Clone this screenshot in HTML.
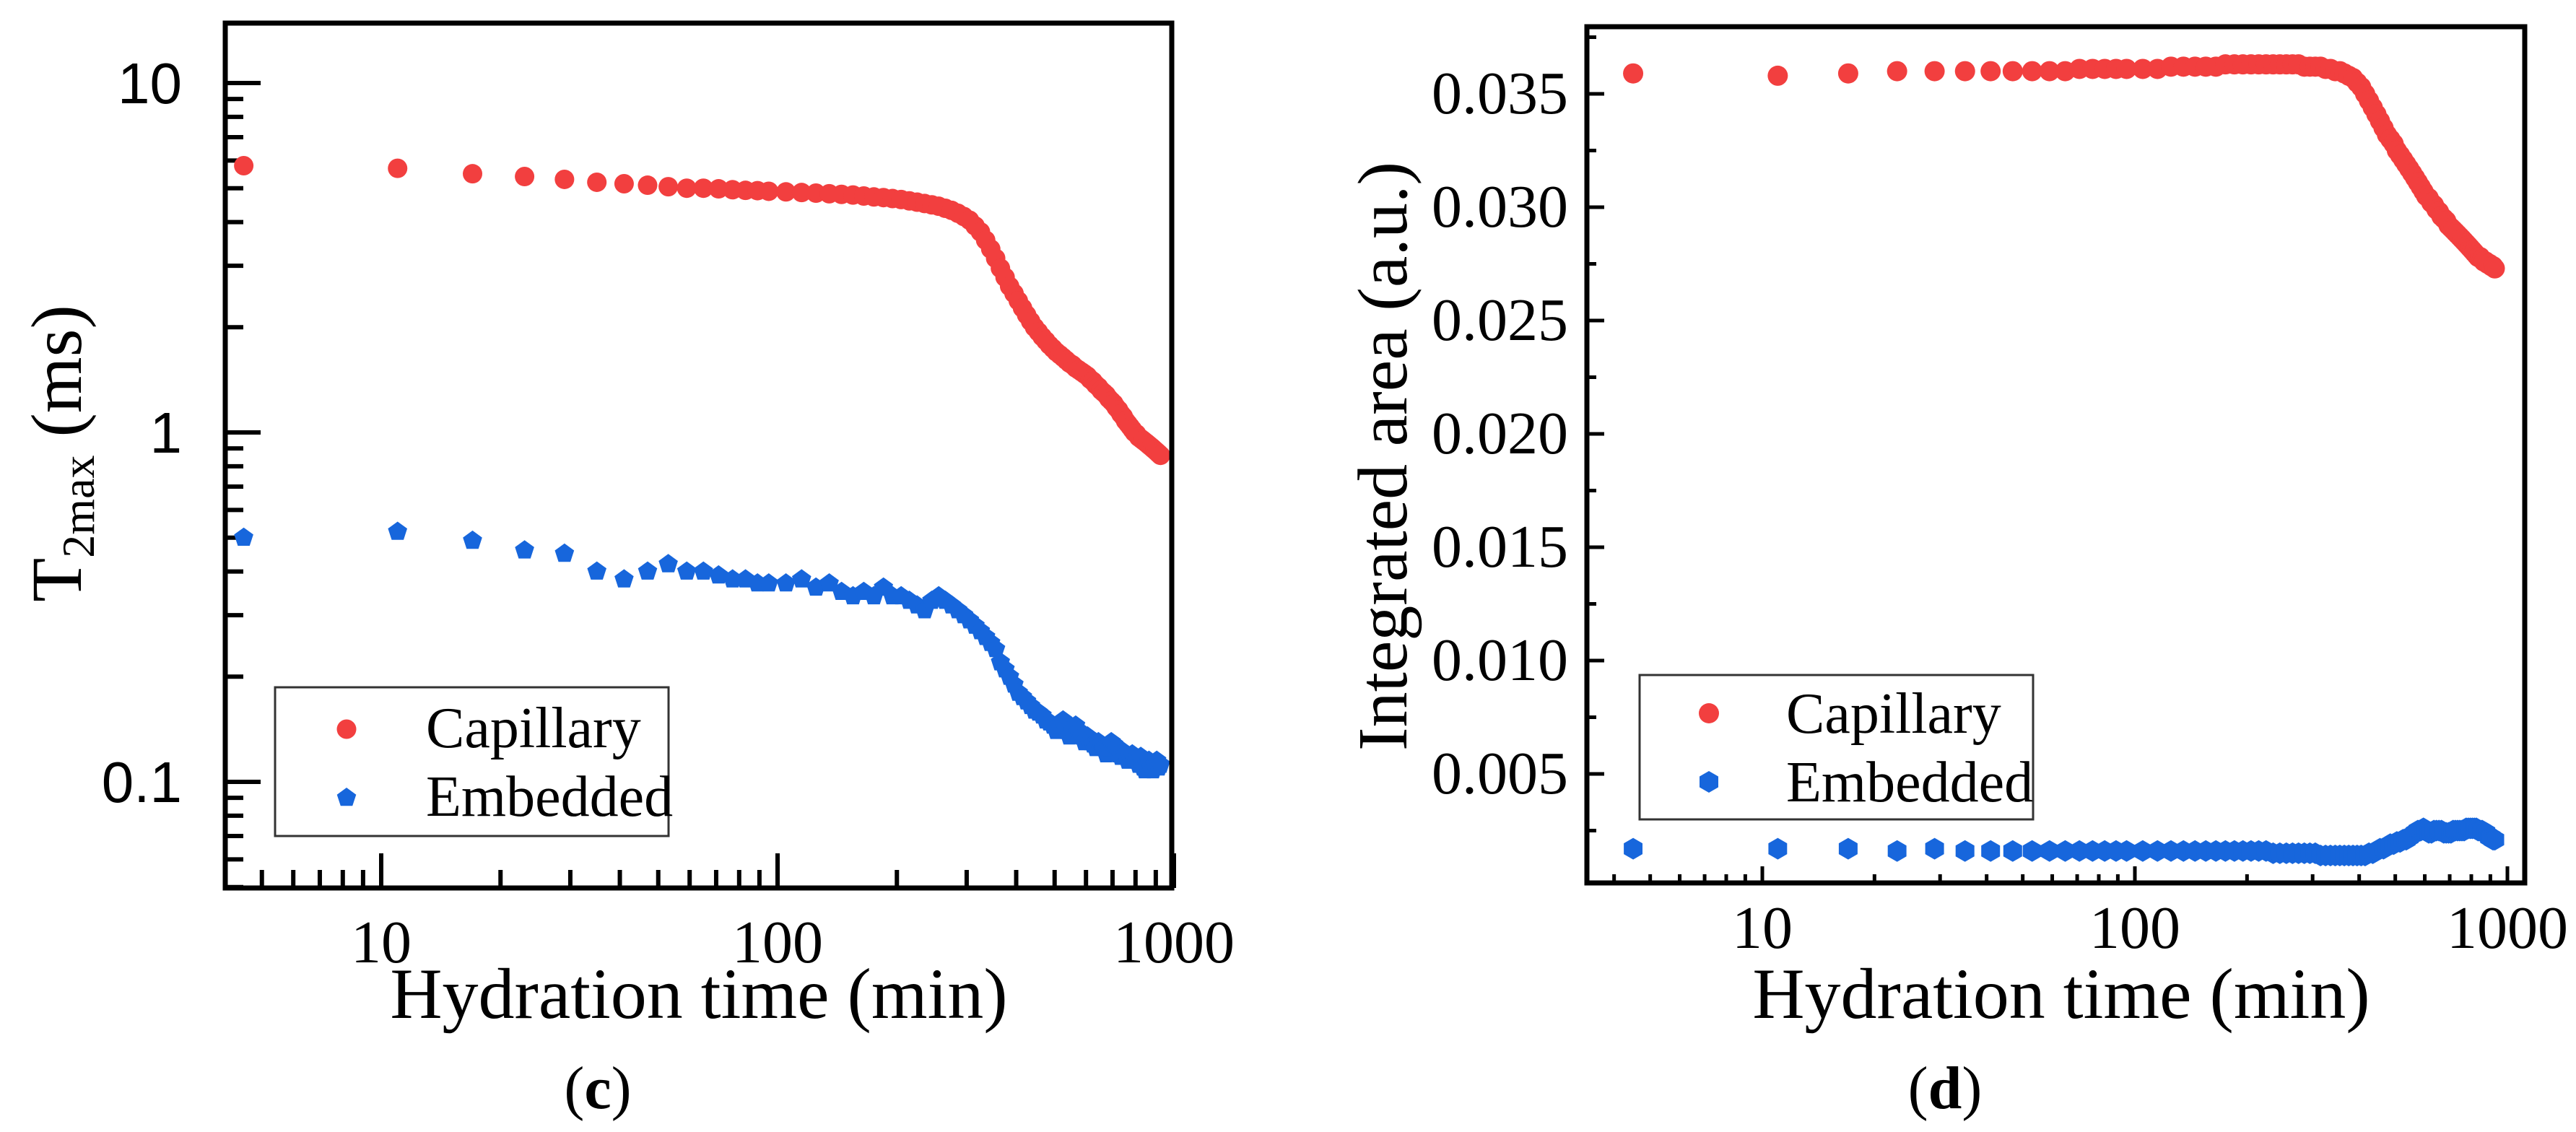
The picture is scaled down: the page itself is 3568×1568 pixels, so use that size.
<!DOCTYPE html>
<html><head><meta charset="utf-8"><style>
html,body{margin:0;padding:0;background:#fff;}
svg{display:block;}
.serif{font-family:"Liberation Serif",serif;}
.sans{font-family:"Liberation Sans",sans-serif;}
</style></head>
<body>
<svg id="fig" width="3568" height="1568" viewBox="0 0 3568 1568" xmlns="http://www.w3.org/2000/svg">
<rect width="3568" height="1568" fill="#fff"/>
<g id="pc"></g>
<g id="pd"></g>
</svg>
<script>
// ---- data ----
const times = [4.5,11,17,23,29,35,41,47,53,59,65,71,77,83,89,95,
105,115,125,135,145,155,165,175,185,195,
205,215,225,235,245,255,265,275,285,295,
305,315,325,335,345,355,365,375,385,395,
405,415,425,435,445,455,465,475,485,495,
505,515,525,535,545,555,565,575,585,595,
605,615,625,635,645,655,665,675,685,695,
705,715,725,735,745,755,765,775,785,795,
805,815,825,835,845,855,865,875,885,895,905,915,925];
const t2Capillary = [5.8,5.7,5.5,5.4,5.3,5.2,5.15,5.1,5.05,5.0,5.0,4.98,4.95,4.93,4.92,4.9,
4.88,4.86,4.84,4.82,4.8,4.78,4.75,4.72,4.7,4.67,
4.64,4.6,4.56,4.52,4.48,4.44,4.38,4.32,4.24,4.15,
4.05,3.9,3.75,3.55,3.35,3.15,2.95,2.78,2.62,2.5,
2.38,2.27,2.17,2.08,2.0,1.94,1.88,1.83,1.78,1.74,
1.70,1.67,1.64,1.61,1.58,1.56,1.53,1.51,1.49,1.47,
1.45,1.42,1.40,1.37,1.35,1.32,1.30,1.28,1.25,1.23,
1.21,1.18,1.16,1.13,1.11,1.08,1.06,1.04,1.02,1.00,
0.99,0.97,0.96,0.95,0.94,0.93,0.92,0.91,0.90,0.89,0.88,0.87,0.86];
const t2Embedded = [0.5,0.52,0.49,0.46,0.45,0.40,0.38,0.40,0.42,0.40,0.40,0.39,0.38,0.38,0.37,0.37,
0.37,0.38,0.36,0.37,0.35,0.34,0.35,0.34,0.36,0.34,
0.34,0.33,0.32,0.31,0.33,0.34,0.33,0.32,0.31,0.30,
0.29,0.28,0.27,0.26,0.25,0.24,0.22,0.21,0.20,0.19,
0.18,0.175,0.17,0.165,0.16,0.158,0.155,0.15,0.148,0.145,
0.14,0.145,0.15,0.14,0.135,0.14,0.145,0.14,0.135,0.13,
0.135,0.13,0.128,0.125,0.13,0.128,0.125,0.12,0.125,0.13,
0.128,0.125,0.12,0.118,0.122,0.12,0.115,0.118,0.12,0.116,
0.115,0.112,0.118,0.11,0.108,0.112,0.115,0.11,0.108,0.112,0.115,0.11,0.112];
const areaCapillary = [.0359,.0358,.0359,.0360,.0360,.0360,.0360,.0360,.0360,.0360,.0360,.0361,.0361,.0361,.0361,.0361,
.0361,.0361,.0362,.0362,.0362,.0362,.0362,.0363,.0363,.0363,
.0363,.0363,.0363,.0363,.0363,.0363,.0363,.0363,.0362,.0362,
.0362,.0362,.0361,.0361,.0360,.0360,.0359,.0358,.0357,.0355,
.0353,.0350,.0347,.0344,.0341,.0338,.0335,.0332,.0330,.0328,
.0325,.0323,.0321,.0319,.0317,.0315,.0313,.0311,.0309,.0307,
.0305,.0304,.0302,.0301,.0299,.0298,.0296,.0295,.0294,.0292,
.0291,.0290,.0289,.0288,.0287,.0286,.0285,.0284,.0283,.0282,
.0281,.0280,.0279,.0278,.0278,.0277,.0276,.0276,.0275,.0275,.0274,.0274,.0273];
const areaEmbedded = [.0017,.0017,.0017,.0016,.0017,.0016,.0016,.0016,.0016,.0016,.0016,.0016,.0016,.0016,.0016,.0016,
.0016,.0016,.0016,.0016,.0016,.0016,.0016,.0016,.0016,.0016,
.0016,.0016,.0016,.0015,.0015,.0015,.0015,.0015,.0015,.0015,
.0015,.0014,.0014,.0014,.0014,.0014,.0014,.0014,.0014,.0014,
.0014,.0014,.0015,.0015,.0016,.0017,.0017,.0018,.0019,.0019,
.0020,.0020,.0021,.0021,.0022,.0023,.0024,.0025,.0025,.0026,
.0025,.0024,.0024,.0025,.0025,.0025,.0025,.0024,.0024,.0024,
.0024,.0025,.0025,.0025,.0025,.0025,.0025,.0026,.0026,.0026,
.0026,.0026,.0026,.0025,.0025,.0025,.0024,.0024,.0023,.0022,.0022,.0021,.0021];
const xTickLabels = ["10","100","1000"];
const xTickValues = [10,100,1000];
const cYTickLabels = ["10","1","0.1"];
const cYTickValues = [10,1,0.1];
const dYTickLabels = ["0.035","0.030","0.025","0.020","0.015","0.010","0.005"];
const dYTickValues = [0.035,0.030,0.025,0.020,0.015,0.010,0.005];

const NS="http://www.w3.org/2000/svg";
const RED="#f23f3f", BLUE="#1766dc";
function mk(parent, tag, attrs){const e=document.createElementNS(NS,tag);for(const k in attrs)e.setAttribute(k,attrs[k]);parent.appendChild(e);return e;}
function txt(parent, s, attrs){const e=mk(parent,'text',attrs);e.textContent=s;return e;}

// ---- panel c axes ----
const pc=document.getElementById('pc');
const cX=v=>528+(Math.log10(v)-1)*549;
const cY=v=>599-Math.log10(v)*484;
// ---- panel d axes ----
const pd=document.getElementById('pd');
const dX=v=>2441+(Math.log10(v)-1)*516;
const dY=v=>130+(0.035-v)/0.005*157;

function poly(cx,cy,r,n,rot){let p=[];for(let i=0;i<n;i++){const a=rot+i*2*Math.PI/n;p.push((cx+r*Math.cos(a)).toFixed(1)+','+(cy+r*Math.sin(a)).toFixed(1));}return p.join(' ');}

// panel c: ticks
const cTicks=mk(pc,'g',{stroke:'#000','stroke-width':6});


[5,6,7,8,9,10,20,30,40,50,60,70,80,90,100,200,300,400,500,600,700,800,900,1000].forEach(v=>{
  const major=[10,100,1000].includes(v);const x=cX(v);
  mk(cTicks,'line',{x1:x,y1:1230,x2:x,y2:major?1182:1205});
});
[0.05,0.06,0.07,0.08,0.09,0.1,0.2,0.3,0.4,0.5,0.6,0.7,0.8,0.9,1,2,3,4,5,6,7,8,9,10].forEach(v=>{
  const major=[0.1,1,10].includes(v);const y=cY(v);
  mk(cTicks,'line',{x1:312,y1:y,x2:major?361:337,y2:y});
});
// panel c data
const cCap=mk(pc,'g',{fill:RED});


times.forEach((t,i)=>{const c=mk(cCap,'circle',{cx:cX(t),cy:cY(t2Capillary[i]),r:13.5});

});
const cEmb=mk(pc,'g',{fill:BLUE});


times.forEach((t,i)=>{const p=mk(cEmb,'polygon',{points:poly(cX(t),cY(t2Embedded[i]),14,5,-Math.PI/2)});

});
// frame c
const cf=mk(pc,'rect',{x:312,y:32,width:1311,height:1198,fill:'none',stroke:'#000','stroke-width':7});


xTickValues.forEach((v,i)=>{const t=txt(pc,xTickLabels[i],{x:cX(v),y:1333,'text-anchor':'middle','font-size':84,class:'serif'});

});
cYTickValues.forEach((v,i)=>{const t=txt(pc,cYTickLabels[i],{x:252,y:cY(v)+28,'text-anchor':'end','font-size':80,class:'sans'});

});
// legend c
const cl=mk(pc,'g',{});


mk(cl,'rect',{x:381,y:952,width:545,height:206,fill:'#fff',stroke:'#333','stroke-width':3});
mk(cl,'circle',{cx:480,cy:1010,r:13.5,fill:RED});
mk(cl,'polygon',{points:poly(480,1105,14,5,-Math.PI/2),fill:BLUE});
txt(cl,'Capillary',{x:590,y:1035,'font-size':80,class:'serif'});
txt(cl,'Embedded',{x:590,y:1130,'font-size':80,class:'serif'});

// panel d: ticks
const dTicks=mk(pd,'g',{stroke:'#000','stroke-width':5});


[4,5,6,7,8,9,10,20,30,40,50,60,70,80,90,100,200,300,400,500,600,700,800,900,1000].forEach(v=>{
  const major=[10,100,1000].includes(v);const x=dX(v);
  mk(dTicks,'line',{x1:x,y1:1223,x2:x,y2:major?1200:1211});
});
[0.0025,0.005,0.0075,0.01,0.0125,0.015,0.0175,0.02,0.0225,0.025,0.0275,0.03,0.0325,0.035,0.0375].forEach(v=>{
  const major=Math.abs(v*200-Math.round(v*200))<1e-6;const y=dY(v);
  mk(dTicks,'line',{x1:2198,y1:y,x2:major?2222:2211,y2:y});
});
const dCap=mk(pd,'g',{fill:RED});


times.forEach((t,i)=>{const c=mk(dCap,'circle',{cx:dX(t),cy:dY(areaCapillary[i]),r:14});

});
const dEmb=mk(pd,'g',{fill:BLUE});


times.forEach((t,i)=>{const p=mk(dEmb,'polygon',{points:poly(dX(t),dY(areaEmbedded[i]),15,6,-Math.PI/2)});

});
const df=mk(pd,'rect',{x:2198,y:37,width:1299,height:1186,fill:'none',stroke:'#000','stroke-width':7});


xTickValues.forEach((v,i)=>{const t=txt(pd,xTickLabels[i],{x:dX(v),y:1313,'text-anchor':'middle','font-size':84,class:'serif'});

});
dYTickValues.forEach((v,i)=>{const t=txt(pd,dYTickLabels[i],{x:2172,y:dY(v)+27,'text-anchor':'end','font-size':84,class:'serif'});

});
const dl=mk(pd,'g',{});


mk(dl,'rect',{x:2271,y:935,width:545,height:200,fill:'#fff',stroke:'#333','stroke-width':3});
mk(dl,'circle',{cx:2367,cy:988,r:14,fill:RED});
mk(dl,'polygon',{points:poly(2367,1083,15,6,-Math.PI/2),fill:BLUE});
txt(dl,'Capillary',{x:2474,y:1015,'font-size':80,class:'serif'});
txt(dl,'Embedded',{x:2474,y:1110,'font-size':80,class:'serif'});
</script>
<svg width="0" height="0" style="position:absolute"></svg>
<script>
const fig=document.getElementById('fig');
function T(s,a){const e=document.createElementNS("http://www.w3.org/2000/svg",'text');for(const k in a)e.setAttribute(k,a[k]);e.innerHTML=s;fig.appendChild(e);return e;}
let e;
e=T('Hydration time (min)',{x:968,y:1410,'text-anchor':'middle','font-size':100,class:'serif'});


e=T('T<tspan font-size="64" dy="18">2max</tspan><tspan dy="-18"> (ms)</tspan>',{x:0,y:0,'text-anchor':'middle','font-size':100,class:'serif',transform:'translate(112,628) rotate(-90)'});


e=T('(<tspan font-weight="bold">c</tspan>)',{x:828,y:1535,'text-anchor':'middle','font-size':84,class:'serif'});


e=T('Hydration time (min)',{x:2855,y:1410,'text-anchor':'middle','font-size':100,class:'serif'});


e=T('Integrated area (a.u.)',{x:0,y:0,'text-anchor':'middle','font-size':98,class:'serif',transform:'translate(1948,632) rotate(-90)'});


e=T('(<tspan font-weight="bold">d</tspan>)',{x:2694,y:1535,'text-anchor':'middle','font-size':84,class:'serif'});


</script>
</body></html>
